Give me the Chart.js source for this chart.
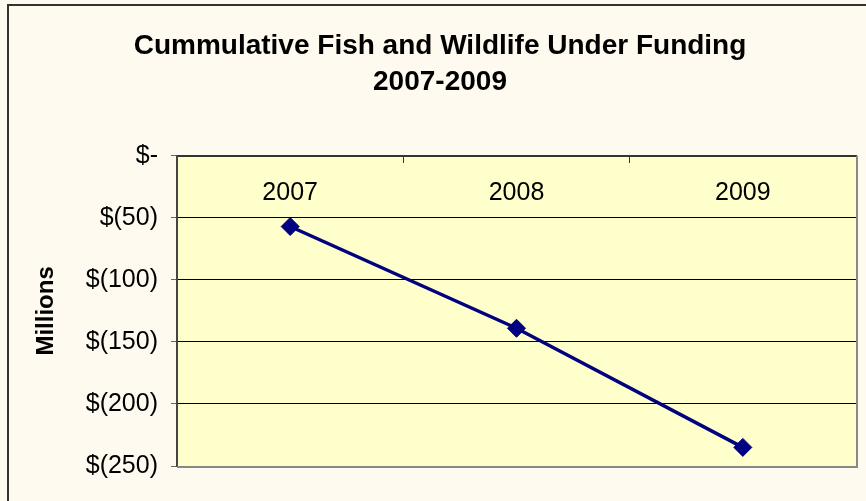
<!DOCTYPE html>
<html>
<head>
<meta charset="utf-8">
<script src="https://cdn.jsdelivr.net/npm/chart.js@4/dist/chart.umd.min.js"></script>
<style>
  html, body { margin: 0; padding: 0; background: #FFFAF0; }
  #wrap { position: relative; width: 866px; height: 501px; }
  canvas { display: block; }
</style>
</head>
<body>
<div id="wrap"><canvas id="c" width="866" height="501"></canvas></div>
<script>
const categories = ['2007', '2008', '2009'];
const underFunding = [-57, -139, -235];
const yTickLabels = ['$-', '$(50)', '$(100)', '$(150)', '$(200)', '$(250)'];
const titleLines = ['Cummulative Fish and Wildlife Under Funding', '2007-2009'];
const yAxisTitle = 'Millions';

const FONT = "'Liberation Sans', Arial, sans-serif";

const framePlugin = {
  id: 'frame',
  beforeDraw(chart) {
    const ctx = chart.ctx;
    const a = chart.chartArea;
    ctx.save();
    ctx.fillStyle = '#FFFAF0';
    ctx.fillRect(0, 0, chart.width, chart.height);
    ctx.strokeStyle = '#333333';
    ctx.lineWidth = 2;
    ctx.strokeRect(8, 5, chart.width + 20, chart.height + 20);
    ctx.fillStyle = '#FFFFCC';
    ctx.fillRect(a.left, a.top, a.right - a.left, a.bottom - a.top);
    ctx.restore();
  },
  beforeDatasetsDraw(chart) {
    const ctx = chart.ctx;
    const a = chart.chartArea;
    ctx.save();
    ctx.strokeStyle = '#888888';
    ctx.lineWidth = 2;
    ctx.beginPath();
    ctx.moveTo(a.left, a.bottom + 1);
    ctx.lineTo(a.right + 1, a.bottom + 1);
    ctx.lineTo(a.right + 1, a.top);
    ctx.stroke();
    ctx.restore();
  }
};

new Chart(document.getElementById('c'), {
  type: 'line',
  data: {
    labels: categories,
    datasets: [{
      data: underFunding,
      borderColor: '#000080',
      backgroundColor: '#000080',
      borderWidth: 3.5,
      pointStyle: 'rectRot',
      pointRadius: 9,
      pointBorderWidth: 1,
      pointBackgroundColor: '#000080',
      pointBorderColor: '#000080',
      tension: 0,
      fill: false,
      clip: false
    }]
  },
  options: {
    responsive: false,
    animation: false,
    devicePixelRatio: 1,
    layout: { padding: { left: 20, right: 6, top: 0, bottom: 35 } },
    plugins: {
      legend: { display: false },
      tooltip: { enabled: false },
      title: {
        display: true,
        text: titleLines,
        color: '#000000',
        font: { family: FONT, size: 28, weight: 'bold', lineHeight: 1.3 },
        padding: { top: 28, bottom: 55 }
      }
    },
    scales: {
      x: {
        type: 'category',
        position: { y: 0 },
        offset: true,
        grid: {
          offset: true,
          drawOnChartArea: false,
          drawTicks: true,
          tickLength: 6,
          color: '#333333',
          tickWidth: 1
        },
        border: { display: true, color: '#333333', width: 2 },
        ticks: {
          color: '#000000',
          font: { family: FONT, size: 25 },
          padding: 16,
          maxRotation: 0,
          autoSkip: false
        }
      },
      y: {
        min: -250,
        max: 0,
        position: 'left',
        afterFit(scale) { scale.width = 157; },
        grid: {
          color: '#000000',
          lineWidth: 1,
          tickColor: '#666666',
          tickLength: 6,
          drawTicks: true
        },
        border: { display: true, color: '#444444', width: 2 },
        ticks: {
          stepSize: 50,
          color: '#000000',
          font: { family: FONT, size: 25 },
          padding: 13,
          callback: (v) => yTickLabels[Math.round(-v / 50)]
        },
        title: {
          display: true,
          text: yAxisTitle,
          color: '#000000',
          font: { family: FONT, size: 24, weight: 'bold' },
          padding: { top: 12, bottom: 0 }
        }
      }
    }
  },
  plugins: [framePlugin]
});
</script>
</body>
</html>
